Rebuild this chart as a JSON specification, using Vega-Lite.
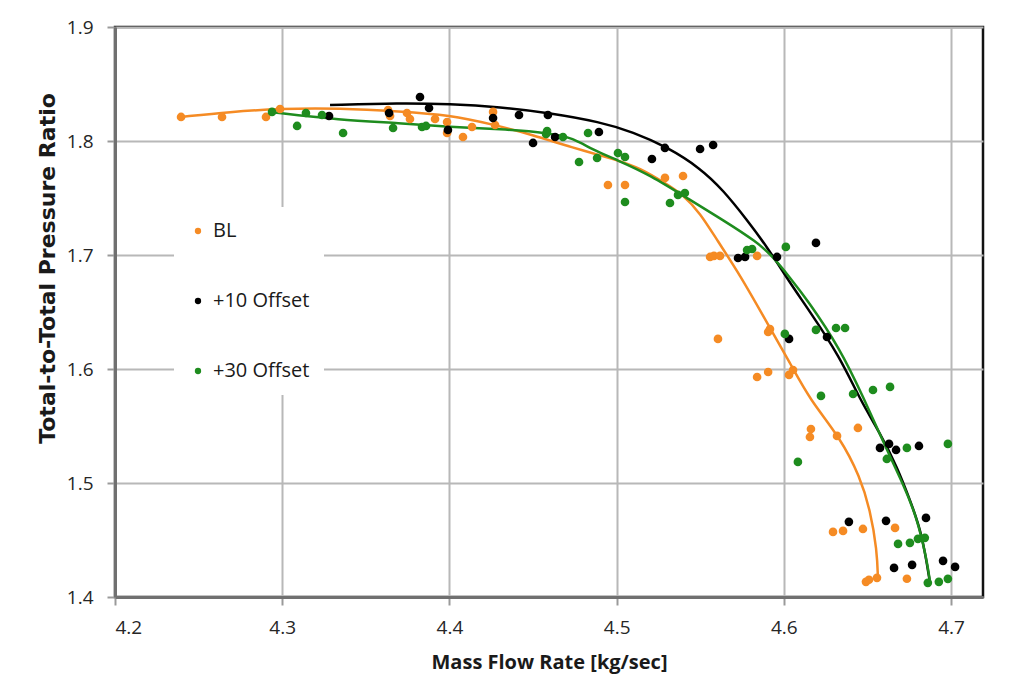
{
  "$schema": "https://vega.github.io/schema/vega-lite/v6.json",
  "width": 868,
  "height": 570,
  "autosize": "none",
  "padding": {"left": 115, "top": 27, "right": 30, "bottom": 99},
  "background": "white",
  "config": {
    "font": "Open Sans",
    "view": {"stroke": "#111111", "strokeWidth": 2.5},
    "axis": {
      "gridColor": "#b8b8b8",
      "gridWidth": 2,
      "tickColor": "#9a9a9a",
      "tickWidth": 2,
      "tickSize": 8,
      "domainColor": "#707070",
      "domainWidth": 3,
      "labelFont": "Open Sans",
      "labelFontSize": 19,
      "labelColor": "#262626",
      "titleFont": "Open Sans",
      "titleFontWeight": "bold",
      "titleColor": "#1a1a1a"
    }
  },
  "datasets": {
    "pts": [
      {"series": "BL", "x": 4.2395, "y": 1.8211},
      {"series": "BL", "x": 4.2640, "y": 1.8211},
      {"series": "BL", "x": 4.2903, "y": 1.8211},
      {"series": "BL", "x": 4.2987, "y": 1.8281},
      {"series": "BL", "x": 4.3633, "y": 1.8272},
      {"series": "BL", "x": 4.3645, "y": 1.8219},
      {"series": "BL", "x": 4.3746, "y": 1.8246},
      {"series": "BL", "x": 4.3764, "y": 1.8193},
      {"series": "BL", "x": 4.3914, "y": 1.8193},
      {"series": "BL", "x": 4.3986, "y": 1.8167},
      {"series": "BL", "x": 4.3986, "y": 1.8070},
      {"series": "BL", "x": 4.4081, "y": 1.8035},
      {"series": "BL", "x": 4.4135, "y": 1.8123},
      {"series": "BL", "x": 4.4261, "y": 1.8255},
      {"series": "BL", "x": 4.4273, "y": 1.8140},
      {"series": "BL", "x": 4.4948, "y": 1.7614},
      {"series": "BL", "x": 4.5050, "y": 1.7614},
      {"series": "BL", "x": 4.5289, "y": 1.7676},
      {"series": "BL", "x": 4.5397, "y": 1.7693},
      {"series": "BL", "x": 4.5559, "y": 1.6983},
      {"series": "BL", "x": 4.5582, "y": 1.6992},
      {"series": "BL", "x": 4.5618, "y": 1.6992},
      {"series": "BL", "x": 4.5840, "y": 1.6992},
      {"series": "BL", "x": 4.5606, "y": 1.6264},
      {"series": "BL", "x": 4.5906, "y": 1.6325},
      {"series": "BL", "x": 4.5917, "y": 1.6351},
      {"series": "BL", "x": 4.5840, "y": 1.5930},
      {"series": "BL", "x": 4.5906, "y": 1.5974},
      {"series": "BL", "x": 4.6031, "y": 1.5948},
      {"series": "BL", "x": 4.6055, "y": 1.5991},
      {"series": "BL", "x": 4.6162, "y": 1.5474},
      {"series": "BL", "x": 4.6156, "y": 1.5404},
      {"series": "BL", "x": 4.6318, "y": 1.5413},
      {"series": "BL", "x": 4.6443, "y": 1.5483},
      {"series": "BL", "x": 4.6294, "y": 1.4571},
      {"series": "BL", "x": 4.6354, "y": 1.4580},
      {"series": "BL", "x": 4.6473, "y": 1.4597},
      {"series": "BL", "x": 4.6665, "y": 1.4606},
      {"series": "BL", "x": 4.6491, "y": 1.4133},
      {"series": "BL", "x": 4.6509, "y": 1.4151},
      {"series": "BL", "x": 4.6557, "y": 1.4168},
      {"series": "BL", "x": 4.6736, "y": 1.4160},
      {"series": "+10 Offset", "x": 4.3280, "y": 1.8219},
      {"series": "+10 Offset", "x": 4.3639, "y": 1.8246},
      {"series": "+10 Offset", "x": 4.3824, "y": 1.8386},
      {"series": "+10 Offset", "x": 4.3878, "y": 1.8290},
      {"series": "+10 Offset", "x": 4.3991, "y": 1.8097},
      {"series": "+10 Offset", "x": 4.4261, "y": 1.8202},
      {"series": "+10 Offset", "x": 4.4416, "y": 1.8228},
      {"series": "+10 Offset", "x": 4.4589, "y": 1.8228},
      {"series": "+10 Offset", "x": 4.4500, "y": 1.7983},
      {"series": "+10 Offset", "x": 4.4632, "y": 1.8035},
      {"series": "+10 Offset", "x": 4.4894, "y": 1.8079},
      {"series": "+10 Offset", "x": 4.5211, "y": 1.7842},
      {"series": "+10 Offset", "x": 4.5289, "y": 1.7939},
      {"series": "+10 Offset", "x": 4.5499, "y": 1.7930},
      {"series": "+10 Offset", "x": 4.5577, "y": 1.7965},
      {"series": "+10 Offset", "x": 4.5726, "y": 1.6974},
      {"series": "+10 Offset", "x": 4.5768, "y": 1.6983},
      {"series": "+10 Offset", "x": 4.5959, "y": 1.6983},
      {"series": "+10 Offset", "x": 4.6192, "y": 1.7106},
      {"series": "+10 Offset", "x": 4.6031, "y": 1.6264},
      {"series": "+10 Offset", "x": 4.6258, "y": 1.6281},
      {"series": "+10 Offset", "x": 4.6575, "y": 1.5308},
      {"series": "+10 Offset", "x": 4.6629, "y": 1.5343},
      {"series": "+10 Offset", "x": 4.6671, "y": 1.5290},
      {"series": "+10 Offset", "x": 4.6808, "y": 1.5325},
      {"series": "+10 Offset", "x": 4.6389, "y": 1.4659},
      {"series": "+10 Offset", "x": 4.6611, "y": 1.4668},
      {"series": "+10 Offset", "x": 4.6850, "y": 1.4694},
      {"series": "+10 Offset", "x": 4.6659, "y": 1.4255},
      {"series": "+10 Offset", "x": 4.6767, "y": 1.4282},
      {"series": "+10 Offset", "x": 4.6952, "y": 1.4317},
      {"series": "+10 Offset", "x": 4.7024, "y": 1.4264},
      {"series": "+30 Offset", "x": 4.2939, "y": 1.8255},
      {"series": "+30 Offset", "x": 4.3089, "y": 1.8132},
      {"series": "+30 Offset", "x": 4.3142, "y": 1.8246},
      {"series": "+30 Offset", "x": 4.3238, "y": 1.8228},
      {"series": "+30 Offset", "x": 4.3364, "y": 1.8070},
      {"series": "+30 Offset", "x": 4.3663, "y": 1.8114},
      {"series": "+30 Offset", "x": 4.3836, "y": 1.8123},
      {"series": "+30 Offset", "x": 4.3860, "y": 1.8132},
      {"series": "+30 Offset", "x": 4.4584, "y": 1.8088},
      {"series": "+30 Offset", "x": 4.4578, "y": 1.8062},
      {"series": "+30 Offset", "x": 4.4679, "y": 1.8035},
      {"series": "+30 Offset", "x": 4.4829, "y": 1.8070},
      {"series": "+30 Offset", "x": 4.4775, "y": 1.7816},
      {"series": "+30 Offset", "x": 4.4883, "y": 1.7851},
      {"series": "+30 Offset", "x": 4.5008, "y": 1.7895},
      {"series": "+30 Offset", "x": 4.5050, "y": 1.7860},
      {"series": "+30 Offset", "x": 4.5050, "y": 1.7465},
      {"series": "+30 Offset", "x": 4.5319, "y": 1.7456},
      {"series": "+30 Offset", "x": 4.5367, "y": 1.7527},
      {"series": "+30 Offset", "x": 4.5408, "y": 1.7544},
      {"series": "+30 Offset", "x": 4.5780, "y": 1.7044},
      {"series": "+30 Offset", "x": 4.5810, "y": 1.7053},
      {"series": "+30 Offset", "x": 4.6012, "y": 1.7071},
      {"series": "+30 Offset", "x": 4.6006, "y": 1.6308},
      {"series": "+30 Offset", "x": 4.6192, "y": 1.6343},
      {"series": "+30 Offset", "x": 4.6312, "y": 1.6360},
      {"series": "+30 Offset", "x": 4.6366, "y": 1.6360},
      {"series": "+30 Offset", "x": 4.6222, "y": 1.5764},
      {"series": "+30 Offset", "x": 4.6414, "y": 1.5781},
      {"series": "+30 Offset", "x": 4.6533, "y": 1.5816},
      {"series": "+30 Offset", "x": 4.6635, "y": 1.5843},
      {"series": "+30 Offset", "x": 4.6084, "y": 1.5185},
      {"series": "+30 Offset", "x": 4.6616, "y": 1.5211},
      {"series": "+30 Offset", "x": 4.6736, "y": 1.5308},
      {"series": "+30 Offset", "x": 4.6981, "y": 1.5343},
      {"series": "+30 Offset", "x": 4.6683, "y": 1.4466},
      {"series": "+30 Offset", "x": 4.6754, "y": 1.4475},
      {"series": "+30 Offset", "x": 4.6802, "y": 1.4510},
      {"series": "+30 Offset", "x": 4.6843, "y": 1.4519},
      {"series": "+30 Offset", "x": 4.6861, "y": 1.4124},
      {"series": "+30 Offset", "x": 4.6927, "y": 1.4133},
      {"series": "+30 Offset", "x": 4.6981, "y": 1.4159}
    ],
    "fit": [
      {"series": "BL", "x": 4.2395, "y": 1.8211},
      {"series": "BL", "x": 4.2688, "y": 1.8255},
      {"series": "BL", "x": 4.2987, "y": 1.8285},
      {"series": "BL", "x": 4.3346, "y": 1.8288},
      {"series": "BL", "x": 4.3704, "y": 1.8260},
      {"series": "BL", "x": 4.4003, "y": 1.8228},
      {"series": "BL", "x": 4.4261, "y": 1.8145},
      {"series": "BL", "x": 4.4500, "y": 1.8053},
      {"series": "BL", "x": 4.4721, "y": 1.7948},
      {"series": "BL", "x": 4.5002, "y": 1.7834},
      {"series": "BL", "x": 4.5140, "y": 1.7763},
      {"series": "BL", "x": 4.5301, "y": 1.7620},
      {"series": "BL", "x": 4.5397, "y": 1.7527},
      {"series": "BL", "x": 4.5499, "y": 1.7369},
      {"series": "BL", "x": 4.5600, "y": 1.7132},
      {"series": "BL", "x": 4.5738, "y": 1.6825},
      {"series": "BL", "x": 4.5900, "y": 1.6404},
      {"series": "BL", "x": 4.6037, "y": 1.6053},
      {"series": "BL", "x": 4.6156, "y": 1.5729},
      {"series": "BL", "x": 4.6336, "y": 1.5400},
      {"series": "BL", "x": 4.6456, "y": 1.5054},
      {"series": "BL", "x": 4.6516, "y": 1.4764},
      {"series": "BL", "x": 4.6557, "y": 1.4413},
      {"series": "BL", "x": 4.6563, "y": 1.4151},
      {"series": "+10 Offset", "x": 4.3286, "y": 1.8316},
      {"series": "+10 Offset", "x": 4.3704, "y": 1.8333},
      {"series": "+10 Offset", "x": 4.4003, "y": 1.8325},
      {"series": "+10 Offset", "x": 4.4303, "y": 1.8298},
      {"series": "+10 Offset", "x": 4.4602, "y": 1.8246},
      {"series": "+10 Offset", "x": 4.4901, "y": 1.8167},
      {"series": "+10 Offset", "x": 4.5098, "y": 1.8079},
      {"series": "+10 Offset", "x": 4.5301, "y": 1.7948},
      {"series": "+10 Offset", "x": 4.5499, "y": 1.7763},
      {"series": "+10 Offset", "x": 4.5636, "y": 1.7571},
      {"series": "+10 Offset", "x": 4.5780, "y": 1.7307},
      {"series": "+10 Offset", "x": 4.5900, "y": 1.7071},
      {"series": "+10 Offset", "x": 4.6037, "y": 1.6755},
      {"series": "+10 Offset", "x": 4.6139, "y": 1.6540},
      {"series": "+10 Offset", "x": 4.6336, "y": 1.6106},
      {"series": "+10 Offset", "x": 4.6456, "y": 1.5729},
      {"series": "+10 Offset", "x": 4.6575, "y": 1.5439},
      {"series": "+10 Offset", "x": 4.6677, "y": 1.5141},
      {"series": "+10 Offset", "x": 4.6754, "y": 1.4852},
      {"series": "+10 Offset", "x": 4.6826, "y": 1.4562},
      {"series": "+10 Offset", "x": 4.6874, "y": 1.4124},
      {"series": "+30 Offset", "x": 4.2927, "y": 1.8255},
      {"series": "+30 Offset", "x": 4.3346, "y": 1.8184},
      {"series": "+30 Offset", "x": 4.3704, "y": 1.8158},
      {"series": "+30 Offset", "x": 4.4003, "y": 1.8123},
      {"series": "+30 Offset", "x": 4.4303, "y": 1.8105},
      {"series": "+30 Offset", "x": 4.4602, "y": 1.8070},
      {"series": "+30 Offset", "x": 4.4739, "y": 1.8026},
      {"series": "+30 Offset", "x": 4.4859, "y": 1.7921},
      {"series": "+30 Offset", "x": 4.5002, "y": 1.7834},
      {"series": "+30 Offset", "x": 4.5200, "y": 1.7702},
      {"series": "+30 Offset", "x": 4.5439, "y": 1.7483},
      {"series": "+30 Offset", "x": 4.5636, "y": 1.7307},
      {"series": "+30 Offset", "x": 4.5840, "y": 1.7114},
      {"series": "+30 Offset", "x": 4.5936, "y": 1.6983},
      {"series": "+30 Offset", "x": 4.6037, "y": 1.6800},
      {"series": "+30 Offset", "x": 4.6139, "y": 1.6610},
      {"series": "+30 Offset", "x": 4.6336, "y": 1.6180},
      {"series": "+30 Offset", "x": 4.6473, "y": 1.5760},
      {"series": "+30 Offset", "x": 4.6616, "y": 1.5290},
      {"series": "+30 Offset", "x": 4.6711, "y": 1.4999},
      {"series": "+30 Offset", "x": 4.6795, "y": 1.4703},
      {"series": "+30 Offset", "x": 4.6855, "y": 1.4326},
      {"series": "+30 Offset", "x": 4.6874, "y": 1.4133}
    ]
  },
  "encoding": {
    "x": {
      "field": "x",
      "type": "quantitative",
      "scale": {"domain": [4.2, 4.7191], "nice": false, "zero": false},
      "axis": {
        "title": "Mass Flow Rate [kg/sec]",
        "titleFontSize": 20,
        "values": [4.2, 4.3, 4.4, 4.5, 4.6, 4.7],
        "format": ".1f",
        "labelPadding": 13,
        "titlePadding": 15
      }
    },
    "y": {
      "field": "y",
      "type": "quantitative",
      "scale": {"domain": [1.4, 1.9], "nice": false, "zero": false},
      "axis": {
        "title": "Total-to-Total Pressure Ratio",
        "titleFont": "DejaVu Sans",
        "titleFontSize": 22,
        "titleY": 241,
        "values": [1.4, 1.5, 1.6, 1.7, 1.8, 1.9],
        "format": ".1f",
        "labelPadding": 14,
        "titlePadding": 7
      }
    }
  },
  "layer": [
    {
      "data": {"name": "fit"},
      "mark": {"type": "line", "interpolate": "basis", "strokeWidth": 2.5},
      "encoding": {
        "color": {
          "field": "series",
          "type": "nominal",
          "scale": {"domain": ["BL", "+10 Offset", "+30 Offset"], "range": ["#F58B24", "#000000", "#1E8C1E"]},
          "legend": null
        },
        "detail": {"field": "series"}
      }
    },
    {
      "data": {"name": "pts"},
      "mark": {"type": "point", "filled": true, "size": 75, "opacity": 1, "shape": "circle"},
      "encoding": {
        "color": {
          "field": "series",
          "type": "nominal",
          "scale": {"domain": ["BL", "+10 Offset", "+30 Offset"], "range": ["#F58B24", "#000000", "#1E8C1E"]},
          "legend": {
            "title": null,
            "orient": "none",
            "legendX": 59,
            "legendY": 180,
            "fillColor": "white",
            "padding": 14,
            "rowPadding": 50,
            "symbolType": "circle",
            "symbolSize": 40,
            "symbolStrokeWidth": 0,
            "labelFont": "Open Sans",
            "labelFontSize": 20,
            "labelColor": "#1a1a1a",
            "labelOffset": 5
          }
        }
      }
    }
  ],
  "resolve": {"legend": {"color": "independent"}}
}
